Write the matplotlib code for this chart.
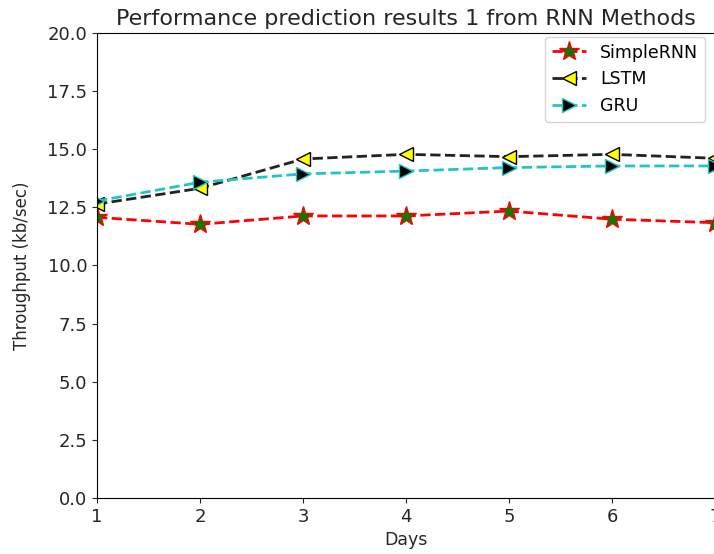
import matplotlib
matplotlib.use("Agg")
import matplotlib.pyplot as plt

days = [1, 2, 3, 4, 5, 6, 7]
simple_rnn = [12.07, 11.77, 12.13, 12.13, 12.34, 11.99, 11.84]
lstm = [12.64, 13.32, 14.58, 14.78, 14.68, 14.78, 14.61]
gru = [12.77, 13.58, 13.94, 14.06, 14.21, 14.28, 14.28]

fig = plt.figure(figsize=(7.14, 5.54), dpi=100)
ax = fig.add_axes([0.1359, 0.1011, 0.8655, 0.8394])

ax.plot(days, simple_rnn, 'r--', lw=2, marker='*', markersize=15,
        markerfacecolor='green', markeredgecolor='red', label='SimpleRNN')
ax.plot(days, lstm, '--', color='#222222', lw=2, marker='<', markersize=10,
        markerfacecolor='yellow', markeredgecolor='black', label='LSTM')
ax.plot(days, gru, '--', color='#22c4c4', lw=2, marker='>', markersize=10,
        markerfacecolor='black', markeredgecolor='#22c4c4', label='GRU')

ax.set_xlim(1, 7)
ax.set_ylim(0, 20)
ax.set_yticks([0, 2.5, 5, 7.5, 10, 12.5, 15, 17.5, 20])
ax.tick_params(labelsize=13, colors='#262626')
ax.set_xlabel('Days', fontsize=12.5, color='#262626')
ax.set_ylabel('Throughput (kb/sec)', fontsize=12, color='#262626', labelpad=12)
ax.set_title('Performance prediction results 1 from RNN Methods', fontsize=16,
             color='#262626')
ax.legend(loc='upper right', fontsize=12.5, borderaxespad=0,
          bbox_to_anchor=(0.988, 0.934), bbox_transform=fig.transFigure)

fig.savefig('out.png', dpi=100)
